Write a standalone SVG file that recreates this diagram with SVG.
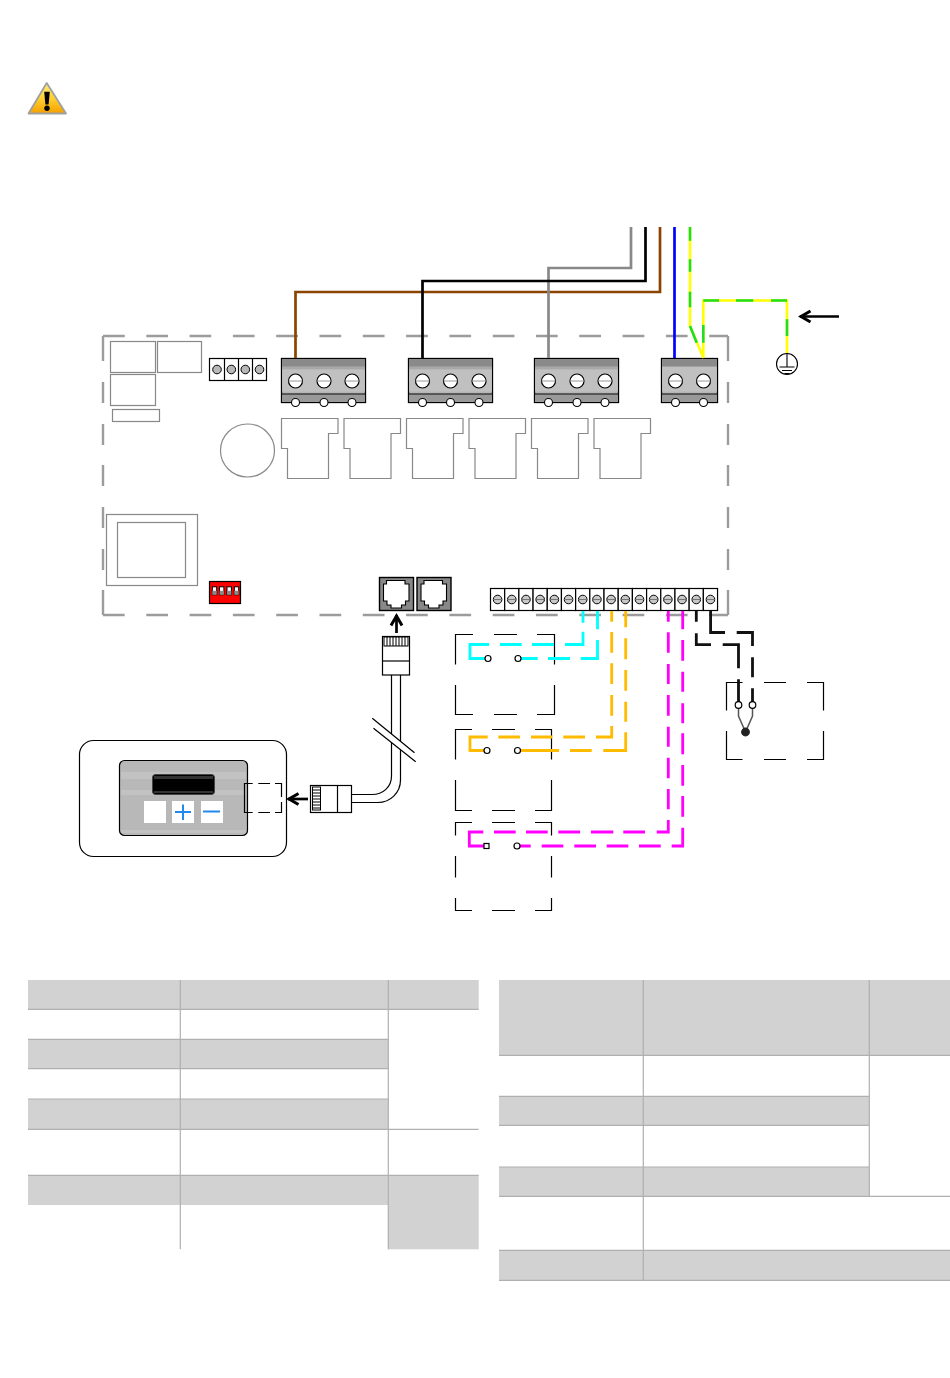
<svg xmlns="http://www.w3.org/2000/svg" width="950" height="1378" viewBox="0 0 950 1378">
<style>
.pcb{fill:#fff;stroke:#888;stroke-width:1.2}
.k{fill:none;stroke:#000;stroke-width:1.2}
.kw{fill:#fff;stroke:#000;stroke-width:1.2}
.edge{fill:none;stroke:#9c9c9c;stroke-width:2.4}
.w{fill:none;stroke-width:2.7}
.d{fill:none;stroke-width:2.8}
.gy{fill:none;stroke:#ffff00;stroke-width:2.6}
.gn{fill:none;stroke:#22dd22;stroke-width:2.6}
.hd{fill:#d2d2d2}
.tl{stroke:#b0b0b0;stroke-width:1.2;fill:none}
</style>
<defs>
<linearGradient id="warn" x1="0" y1="0" x2="0" y2="1"><stop offset="0" stop-color="#ffee80"/><stop offset="0.5" stop-color="#ffd030"/><stop offset="1" stop-color="#f4a000"/></linearGradient>
<marker id="arrow" viewBox="-13 -8 15 16" refX="0" refY="0" markerWidth="15" markerHeight="16" markerUnits="userSpaceOnUse" orient="auto"><path d="M-10.500 -5.500L-1 0L-10.500 5.500" fill="none" stroke="#000" stroke-width="3"/></marker>
<g id="screw"><circle r="7" fill="#fff" stroke="#000" stroke-width="1.200"/><path d="M-7 0H7" stroke="#999" stroke-width="1"/></g>
<g id="pin"><circle r="4" fill="#fff" stroke="#000" stroke-width="1.100"/></g>
<g id="cell"><rect width="14.190" height="22" fill="#fff" stroke="#000" stroke-width="1.200"/><circle cx="7.100" cy="11" r="4.300" fill="#c8c8c8" stroke="#000"/><path d="M2.800 11H11.400" stroke="#777" stroke-width="1"/></g>
<g id="port"><rect x="0.500" y="0.500" width="34" height="33" fill="#888" stroke="#000" stroke-width="1.400"/><path d="M7.500 3.500H26V7H30V24H26.500V28H22.500V31H12V28H8V24H4.500V7H7.500Z" fill="#fff" stroke="#000" stroke-width="1.100"/></g>
<path id="relay" d="M0 0H56.500V15H47V60H6V30H0Z" class="pcb"/>
<g id="sw"><rect width="4.400" height="8" fill="#fff" stroke="#000"/><rect y="4" width="4.400" height="4" fill="#888"/></g>
<g id="tb-face"><rect x="0.600" y="8" width="82.800" height="3" fill="#a8a8a8"/><rect x="0.600" y="11" width="82.800" height="22" fill="#c0c0c0"/></g>
</defs>
<rect width="950" height="1378" fill="#fff"/>
<g id="warning-icon">
<path d="M46.700 83L66 113.500H28.500Z" fill="url(#warn)" stroke="#a0a0a0" stroke-width="1.800" stroke-linejoin="round"/>
<path d="M44.200 91.700H49.800L48.600 104.500H45.400Z" fill="#000"/>
<circle cx="47" cy="108.300" r="2.700" fill="#000"/>
</g>
<g id="board-outline">
<path class="edge" d="M103 336H728" stroke-dasharray="21.700 21.600"/>
<path class="edge" d="M103 615H728" stroke-dasharray="21.700 21.600"/>
<path class="edge" d="M103 336V361M103 382V403M103 424V445M103 465V486M103 507V528M103 549V570M103 590V615"/>
<path class="edge" d="M728 336V361M728 382V403M728 424V445M728 465V486M728 507V528M728 549V570M728 590V615"/>
</g>
<g id="pcb-parts">
<rect class="pcb" x="110.500" y="341.500" width="45" height="31"/>
<rect class="pcb" x="157.500" y="341.500" width="44" height="31"/>
<rect class="pcb" x="110.500" y="374.500" width="45" height="31"/>
<rect class="pcb" x="112.500" y="409.500" width="47" height="12"/>
<ellipse class="pcb" cx="247.500" cy="450.500" rx="27" ry="26.500"/>
<rect class="pcb" x="106.500" y="514.500" width="91" height="71"/>
<rect class="pcb" x="117.500" y="522.500" width="68" height="55"/>
</g>
<g id="relays">
<use href="#relay" x="281.500" y="418.500"/>
<use href="#relay" x="344" y="418.500"/>
<use href="#relay" x="406.500" y="418.500"/>
<use href="#relay" x="469" y="418.500"/>
<use href="#relay" x="531.500" y="418.500"/>
<use href="#relay" x="594" y="418.500"/>
</g>
<g id="small-connector">
<rect x="209.500" y="358.500" width="57" height="22" fill="#fff" stroke="#000" stroke-width="1.200"/>
<path d="M224.500 358.500V380.500M238.500 358.500V380.500M252.500 358.500V380.500" stroke="#000" stroke-width="1.200"/>
<g fill="#b8b8b8" stroke="#000"><circle cx="217" cy="369.500" r="4.300"/><circle cx="231.300" cy="369.500" r="4.300"/><circle cx="245.300" cy="369.500" r="4.300"/><circle cx="259.500" cy="369.500" r="4.300"/></g>
</g>
<g id="dip-switch">
<rect x="209.500" y="581.500" width="31" height="22" fill="#ff0000" stroke="#000" stroke-width="1.200"/>
<use href="#sw" x="212.300" y="586.800"/><use href="#sw" x="219.500" y="586.800"/><use href="#sw" x="227" y="586.800"/><use href="#sw" x="234.300" y="586.800"/>
</g>
<g id="terminal-1" transform="translate(281.500 358.500)">
<rect width="84" height="44" fill="#b6b6b6" stroke="#000" stroke-width="1.300"/>
<use href="#tb-face"/>
<rect x="0.600" y="0.600" width="82.800" height="7.400" fill="#8a8a8a"/><rect x="0.600" y="36" width="82.800" height="7.400" fill="#999"/>
<path d="M0 35.500H84" stroke="#000" stroke-width="1.100"/>
<use href="#screw" x="14" y="22.500"/><use href="#screw" x="42.500" y="22.500"/><use href="#screw" x="70.500" y="22.500"/>
<use href="#pin" x="14" y="44"/><use href="#pin" x="42.500" y="44"/><use href="#pin" x="70.500" y="44"/>
</g>
<g id="terminal-2" transform="translate(408.500 358.500)">
<rect width="84" height="44" fill="#b6b6b6" stroke="#000" stroke-width="1.300"/>
<use href="#tb-face"/>
<rect x="0.600" y="0.600" width="82.800" height="7.400" fill="#8a8a8a"/><rect x="0.600" y="36" width="82.800" height="7.400" fill="#999"/>
<path d="M0 35.500H84" stroke="#000" stroke-width="1.100"/>
<use href="#screw" x="14" y="22.500"/><use href="#screw" x="42" y="22.500"/><use href="#screw" x="70.500" y="22.500"/>
<use href="#pin" x="14" y="44"/><use href="#pin" x="42" y="44"/><use href="#pin" x="70.500" y="44"/>
</g>
<g id="terminal-3" transform="translate(534.500 358.500)">
<rect width="84" height="44" fill="#b6b6b6" stroke="#000" stroke-width="1.300"/>
<use href="#tb-face"/>
<rect x="0.600" y="0.600" width="82.800" height="7.400" fill="#8a8a8a"/><rect x="0.600" y="36" width="82.800" height="7.400" fill="#999"/>
<path d="M0 35.500H84" stroke="#000" stroke-width="1.100"/>
<use href="#screw" x="14" y="22.500"/><use href="#screw" x="42.500" y="22.500"/><use href="#screw" x="70.500" y="22.500"/>
<use href="#pin" x="14" y="44"/><use href="#pin" x="42.500" y="44"/><use href="#pin" x="70.500" y="44"/>
</g>
<g id="terminal-4" transform="translate(661.500 358.500)">
<rect width="56" height="44" fill="#b6b6b6" stroke="#000" stroke-width="1.300"/>
<rect x="0.600" y="8" width="54.800" height="25" fill="#c0c0c0"/>
<rect x="0.600" y="0.600" width="54.800" height="7.400" fill="#8a8a8a"/><rect x="0.600" y="36" width="54.800" height="7.400" fill="#999"/>
<path d="M0 35.500H56" stroke="#000" stroke-width="1.100"/>
<use href="#screw" x="14" y="22.500"/><use href="#screw" x="42" y="22.500"/>
<use href="#pin" x="14" y="44"/><use href="#pin" x="42" y="44"/>
</g>
<g id="rj-port-1"><use href="#port" x="379" y="577"/></g>
<g id="rj-port-2"><use href="#port" x="416.500" y="577"/></g>
<g id="terminal-strip">
<use href="#cell" x="490.500" y="588.500"/><use href="#cell" x="504.690" y="588.500"/><use href="#cell" x="518.880" y="588.500"/><use href="#cell" x="533.070" y="588.500"/>
<use href="#cell" x="547.260" y="588.500"/><use href="#cell" x="561.450" y="588.500"/><use href="#cell" x="575.640" y="588.500"/><use href="#cell" x="589.830" y="588.500"/>
<use href="#cell" x="604.020" y="588.500"/><use href="#cell" x="618.210" y="588.500"/><use href="#cell" x="632.400" y="588.500"/><use href="#cell" x="646.590" y="588.500"/>
<use href="#cell" x="660.780" y="588.500"/><use href="#cell" x="674.970" y="588.500"/><use href="#cell" x="689.160" y="588.500"/><use href="#cell" x="703.350" y="588.500"/>
</g>
<g id="contact-box-1">
<path class="k" d="M473 634.500H455.500V664.500M455.500 685V714.500H473M494 634.500H517M494 714.500H517M537 634.500H554.500V664.500M554.500 685V714.500H537"/>
</g>
<g id="contact-box-2">
<path class="k" d="M472 729.500H455.500V759.500M455.500 780V810.500H472M492 729.500H515M492 810.500H515M535 729.500H551.500V759.500M551.500 780V810.500H535"/>
</g>
<g id="contact-box-3">
<path class="k" d="M472 822.500H455.500V835.500M455.500 856V877.500M455.500 898V910.500H472M492 822.500H515M492 910.500H515M535 822.500H551.500V835.500M551.500 856V877.500M551.500 898V910.500H535"/>
</g>
<g id="contact-box-4">
<path class="k" d="M742.500 682.500H726.500V710.500M726.500 731V759.500H742.500M764 682.500H786M764 759.500H786M807 682.500H823.500V710.500M823.500 731V759.500H807"/>
</g>
<g id="connectors">
<path class="w" stroke="#884400" d="M660 227V292H295.500V358"/>
<path class="w" stroke="#888" d="M631 227V268H548.500V358"/>
<path class="w" stroke="#000" d="M645.500 227V281H422.500V358"/>
<path class="w" stroke="#0000ff" d="M674.500 227V358"/>
<path class="gy" d="M690 227V326L703.500 358"/>
<path class="gn" d="M690 227V240.700M690 259.300V271.700M690 291.700V307.300M690 326L696.700 342.700"/>
<path class="gy" d="M703.300 358V300.500H787V353"/>
<path class="gn" d="M703.300 342.700V325M703.300 300.500H719M736 300.500H753.300M771 300.500H787M787 319.300V336"/>
<path class="d" stroke="#00ffff" d="M583 611V622.700M583 631.700V644.500H565M554 644.500H532M521.700 644.500H500M489 644.500H470V658.500H485"/>
<path class="d" stroke="#00ffff" d="M597.500 611V629.300M597.500 640V658.500H580.700M570 658.500H548M537.700 658.500H521"/>
<path class="d" stroke="#ffbb00" d="M611.700 611V621.700M611.700 632V652.700M611.700 663.300V684M611.700 695V715.700M611.700 726V737H596M585 737H563.300M552.300 737H531M520 737H498.300M487.700 737H470V750.500H484"/>
<path class="d" stroke="#ffbb00" d="M625.700 611V627.300M625.700 638.300V659.300M625.700 670V690.700M625.700 701.700V721.700M625.700 732.300V750.500H603.300M591.700 750.500H570M559 750.500H521"/>
<path class="d" stroke="#ff00ff" d="M668.300 611V621.700M668.300 632.300V652.700M668.300 664V684M668.300 695V715.700M668.300 726.700V746.700M668.300 757.700V778.300M668.300 789V809.300M668.300 820V832H656.700M645 832H623.300M613.300 832H591M580 832H558.300M547.700 832H526M515.700 832H494M483.300 832H469.300V846H484"/>
<path class="d" stroke="#ff00ff" d="M682.700 611V629.300M682.700 640V660.700M682.700 671.700V691.700M682.700 703.300V723.300M682.700 733.300V754.300M682.700 765V785.700M682.700 796V816.700M682.700 827.700V846H671.700M660.700 846H639M628.300 846H606.700M596 846H574.300M563.300 846H541.700M530.700 846H520"/>
<path class="d" stroke="#111" stroke-width="3" d="M696.300 611V621.700M696.300 633.300V644.700H711M722.700 644.700H738.500V668.300M738.500 679.300V705"/>
<path class="d" stroke="#111" stroke-width="3" d="M710.600 611V632.500H725M736.700 632.500H752.500V646M752.500 657.300V677.300M752.500 688.300V705"/>
<path fill="none" stroke="#555" stroke-width="1.500" d="M738.500 708V716L745.500 732L752.500 716V708"/>
<path class="w" stroke="#000" marker-end="url(#arrow)" d="M839 316.500H800"/>
<path class="w" stroke="#000" marker-end="url(#arrow)" d="M396.500 633V615"/>
<path class="w" stroke="#000" marker-end="url(#arrow)" d="M308 799H288"/>
</g>
<g id="contacts" class="kw">
<circle cx="488" cy="658.500" r="3"/><circle cx="518" cy="658.500" r="3"/>
<circle cx="487" cy="750.500" r="3"/><circle cx="517.500" cy="750.500" r="3"/>
<rect x="484" y="843.500" width="5" height="5"/><circle cx="517" cy="846" r="3"/>
<circle cx="738.500" cy="705" r="3.300"/><circle cx="752.500" cy="705" r="3.300"/>
<circle cx="745.500" cy="732" r="3.800" fill="#222" stroke="#222"/>
</g>
<g id="earth">
<circle cx="787" cy="364" r="10.500" fill="#fff" stroke="#000" stroke-width="1.100"/>
<path d="M787 353V367M779.500 367H794.500M782 370.500H792M784.500 373.500H789.500" stroke="#000" stroke-width="1.100" fill="none"/>
</g>
<g id="cable">
<path class="k" d="M391.500 675V776C391.500 787 383 794.500 372 794.500H352M400.500 675V780C400.500 793 390 802.500 378 802.500H352"/>
<path d="M372.500 718.500L414.500 752.700L415.700 761.700L373.500 728.300Z" fill="#fff"/>
<path class="k" d="M372.300 718.300L414.500 752.700M373.500 728.300L415.700 761.700"/>
</g>
<g id="plug-top">
<rect class="kw" x="382.500" y="636.500" width="27" height="38.500"/>
<path class="k" d="M382.500 661H409.500"/>
<rect x="384" y="637" width="24" height="9" fill="#fff" stroke="#000"/>
<path d="M387 637V646M390 637V646M393 637V646M396 637V646M399 637V646M402 637V646M405 637V646" stroke="#000" stroke-width="1"/>
</g>
<g id="plug-left">
<rect class="kw" x="310.500" y="785.500" width="41" height="27"/>
<path class="k" d="M337.500 785.500V812.500"/>
<rect x="312.500" y="787" width="8" height="23" fill="#fff" stroke="#000"/>
<path d="M312.500 790H320.500M312.500 793H320.500M312.500 796H320.500M312.500 799H320.500M312.500 802H320.500M312.500 805H320.500M312.500 808H320.500" stroke="#000" stroke-width="1"/>
</g>
<g id="remote-panel">
<rect class="k" x="79.500" y="740.500" width="207" height="116" rx="14"/>
<rect x="119.500" y="760.500" width="128" height="75" rx="5" fill="#b8b8b8" stroke="#000" stroke-width="1.200"/>
<rect x="121" y="772" width="125" height="7" fill="#c2c2c2"/><rect x="121" y="790" width="125" height="5" fill="#c2c2c2"/><rect x="121" y="830" width="125" height="3" fill="#c2c2c2"/>
<rect x="152.500" y="774.500" width="62" height="20" rx="3" fill="#000" stroke="#444"/>
<rect x="154" y="776" width="59" height="3" fill="#333"/><rect x="154" y="791" width="59" height="2" fill="#333"/>
<rect x="144" y="801" width="22" height="22" fill="#fff"/><rect x="172" y="801" width="22" height="22" fill="#fff"/><rect x="201" y="801" width="22" height="22" fill="#fff"/>
<path d="M175 812H191M183 804.500V820M203 811.500H220" stroke="#2288ee" stroke-width="2" fill="none"/>
<path class="k" d="M252.700 783.500H244.500V812.500H252.700M258.300 783.500H270M258.300 812.500H270M275 783.500H281.500V797M281.500 802V812.500H275"/>
</g>
<g id="table-left">
<rect class="hd" x="28" y="980" width="450.700" height="29.300"/>
<rect class="hd" x="28" y="1039.300" width="360.300" height="29.400"/>
<rect class="hd" x="28" y="1099" width="360.300" height="30.300"/>
<rect class="hd" x="28" y="1175.300" width="360.300" height="29.700"/>
<rect class="hd" x="388.300" y="1175.300" width="90.400" height="74"/>
<path class="tl" d="M180.300 980V1249.300M388.300 980V1249.300M28 1009.300H478.700M28 1039.300H388.300M28 1068.700H388.300M28 1099H388.300M28 1129.300H478.700M28 1175.300H478.700"/>
</g>
<g id="table-right">
<rect class="hd" x="499" y="980" width="451" height="75.300"/>
<rect class="hd" x="499" y="1096.300" width="370.300" height="29"/>
<rect class="hd" x="499" y="1167" width="370.300" height="29.300"/>
<rect class="hd" x="499" y="1250.300" width="451" height="30"/>
<path class="tl" d="M643.300 980V1280.300M869.300 980V1196.300M499 1055.300H950M499 1096.300H869.300M499 1125.300H869.300M499 1167H869.300M499 1196.300H950M499 1250.300H950M499 1280.300H950"/>
</g>
</svg>
